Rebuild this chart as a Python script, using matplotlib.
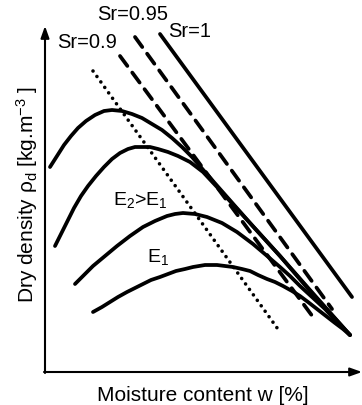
import matplotlib
matplotlib.use("Agg")
import matplotlib.pyplot as plt

plt.rcParams['font.family'] = ['Liberation Sans', 'DejaVu Sans']
plt.rcParams['mathtext.fontset'] = 'custom'
plt.rcParams['mathtext.rm'] = 'Liberation Sans'

# compaction curves (w, rho_d) in plot units
curve_a_w = [50, 57, 64, 71, 78, 86, 95, 104, 112, 122, 132, 142, 152, 162, 172, 182,
             192, 205, 220, 250, 280, 310, 350]
curve_a_d = [168, 157, 146, 137, 129, 122, 116, 112, 111, 112, 115, 119, 125, 131, 139, 148,
             158, 173, 190, 224, 257, 291, 336]
curve_b_w = [55, 61, 67, 74, 81, 88, 96, 104, 112, 120, 128, 135, 142, 150, 158, 168,
             178, 190, 203, 217, 250, 280, 310, 350]
curve_b_d = [247, 235, 223, 209, 197, 187, 177, 168, 160, 154, 150, 148, 148, 148, 150, 153,
             157, 163, 173, 188, 224, 257, 292, 336]
curve_c_w = [75, 84, 93, 105, 117, 130, 143, 155, 167, 175, 183, 195, 207, 222, 237, 253,
             266, 280, 290, 300, 312, 325, 337, 350]
curve_c_d = [285, 276, 267, 257, 247, 237, 228, 222, 217, 215, 214, 215, 218, 224, 233, 245,
             256, 268, 277, 287, 298, 310, 323, 336]
curve_d_w = [93, 102, 110, 118, 127, 135, 143, 151, 160, 168, 176, 185, 193, 205, 217, 225,
             233, 242, 250, 258, 267, 275, 283, 292, 300, 308, 317, 326, 335, 343, 350]
curve_d_d = [313, 308, 303, 298, 293, 289, 285, 281, 278, 275, 272, 270, 268, 266, 266, 267,
             268, 270, 272, 276, 280, 283, 287, 292, 297, 303, 310, 317, 324, 330, 336]

# saturation lines and line of optimums
sr1_w = [160, 352]
sr1_d = [35, 298]
sr095_w = [135, 332]
sr095_d = [38, 310]
sr09_w = [120, 313]
sr09_d = [57, 318]
opt_w = [93, 280]
opt_d = [72, 333]

fig = plt.figure(figsize=(3.62, 4.06), dpi=100)
ax = fig.add_axes([0, 0, 1, 1])
ax.set_xlim(0, 362)
ax.set_ylim(406, 0)
ax.axis('off')

lw = 2.7
for w, d in [(curve_a_w, curve_a_d), (curve_b_w, curve_b_d),
             (curve_c_w, curve_c_d), (curve_d_w, curve_d_d)]:
    ax.plot(w, d, color='black', lw=lw, solid_capstyle='round', solid_joinstyle='round')

ax.plot(sr1_w, sr1_d, color='black', lw=lw, solid_capstyle='round')
ax.plot(sr095_w, sr095_d, color='black', lw=2.7, linestyle=(0, (3.3, 2.2)), dash_capstyle='round')
ax.plot(sr09_w, sr09_d, color='black', lw=2.7, linestyle=(0, (3.3, 2.2)), dash_capstyle='round')
ax.plot(opt_w, opt_d, color='black', lw=2.6, linestyle=(0, (0.01, 1.85)), dash_capstyle='round')

# axes with arrows
arrow = dict(arrowstyle='-|>,head_length=0.7,head_width=0.25', lw=1.5, color='black',
             shrinkA=0, shrinkB=0)
ax.annotate('', xy=(45, 27), xytext=(45, 374), arrowprops=arrow)
ax.annotate('', xy=(362, 373), xytext=(44, 373), arrowprops=arrow)

ax.text(97, 20, 'Sr=0.95', fontsize=14.5, ha='left', va='baseline')
ax.text(168, 37, 'Sr=1', fontsize=14.5, ha='left', va='baseline')
ax.text(57, 48, 'Sr=0.9', fontsize=14.5, ha='left', va='baseline')
ax.text(113, 205, r'E$\mathregular{_2}$>E$\mathregular{_1}$', fontsize=14, ha='left', va='baseline')
ax.text(147, 262, r'E$\mathregular{_1}$', fontsize=14, ha='left', va='baseline')

ax.text(97, 401, 'Moisture content w [%]', fontsize=15, ha='left', va='baseline')
ax.text(27, 194, r'Dry density ρ$\mathregular{_d}$ [kg.m$\mathregular{^{-3}}$ ]', fontsize=15,
        rotation=90, ha='center', va='center')

fig.savefig('out.png', dpi=100)
